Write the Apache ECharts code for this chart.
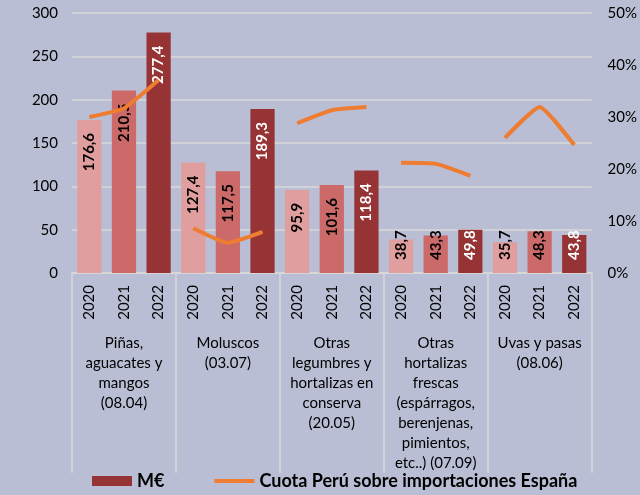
<!DOCTYPE html>
<html>
<head>
<meta charset="utf-8">
<script src="https://cdn.jsdelivr.net/npm/echarts@6/dist/echarts.min.js"></script>
<style>
  html, body { margin: 0; padding: 0; background: #b9bed4; }
  #main { width: 640px; height: 495px; }
</style>
</head>
<body>
<div id="main"></div>
<script>
// datos: importaciones (M€) y cuota de Perú por partida
var years = ['2020', '2021', '2022'];
var groups = [
  'Piñas,\naguacates y\nmangos\n(08.04)',
  'Moluscos\n(03.07)',
  'Otras\nlegumbres y\nhortalizas en\nconserva\n(20.05)',
  'Otras\nhortalizas\nfrescas\n(espárragos,\nberenjenas,\npimientos,\netc..) (07.09)',
  'Uvas y pasas\n(08.06)'
];
var importes = [
  [176.6, 210.5, 277.4],
  [127.4, 117.5, 189.3],
  [95.9, 101.6, 118.4],
  [38.7, 43.3, 49.8],
  [35.7, 48.3, 43.8]
];
var cuota = [
  [30.0, 31.7, 37.1],
  [8.6, 5.8, 7.9],
  [28.8, 31.3, 31.9],
  [21.2, 21.0, 18.7],
  [26.0, 31.9, 24.6]
];
var yLeftTicks = [0, 300, 50];
var yRightTicks = [0, 50, 10];

var barColors = ['#e09e9e', '#cc6969', '#963435'];
var labelColors = ['#000', '#000', '#fff'];
var lineName = 'Cuota Perú sobre importaciones España';
var fontName = 'Lato, "Open Sans", sans-serif';

var xCats = [];
var barData = [];
importes.forEach(function (g, gi) {
  g.forEach(function (v, yi) {
    xCats.push(years[yi] + '_' + gi);
    var small = v < 60;
    barData.push({
      value: v,
      itemStyle: { color: barColors[yi] },
      label: small
        ? { position: 'insideBottom', align: 'left', distance: 13, color: labelColors[yi] }
        : { position: 'insideTop', align: 'right', distance: 13, color: labelColors[yi] }
    });
  });
});

// una serie de línea por grupo para que no se unan entre partidas
var lineSeries = cuota.map(function (g, gi) {
  var d = xCats.map(function () { return '-'; });
  g.forEach(function (v, yi) { d[gi * 3 + yi] = v; });
  return {
    name: lineName,
    type: 'line',
    yAxisIndex: 1,
    data: d,
    smooth: 0.15,
    symbol: 'none',
    lineStyle: { color: '#ee7d31', width: 4 },
    itemStyle: { color: '#ee7d31' },
    z: 5
  };
});

var myChart = echarts.init(document.getElementById('main'));
var option = {
  backgroundColor: '#b9bed4',
  textStyle: { fontFamily: fontName },
  animation: false,
  grid: { left: 72, right: 48, top: 13, bottom: 222 },
  legend: {
    bottom: 0,
    left: 87,
    itemGap: 50,
    itemWidth: 40,
    itemHeight: 10,
    textStyle: { fontSize: 18, fontWeight: 'bold', color: '#000', fontFamily: fontName },
    data: [
      { name: 'M€', icon: 'rect', itemStyle: { color: barColors[2] } },
      { name: lineName, icon: 'path://M0,3 L40,3 L40,7 L0,7 Z', itemStyle: { color: '#ee7d31' } }
    ]
  },
  xAxis: [
    {
      type: 'category',
      data: xCats,
      position: 'bottom',
      axisLine: { show: true, lineStyle: { color: '#d9d9d9', width: 1.5 } },
      axisTick: { show: false },
      axisLabel: {
        interval: 0,
        rotate: 90,
        margin: 12,
        fontSize: 15,
        color: '#000',
        formatter: function (v) { return v.split('_')[0]; }
      }
    },
    {
      type: 'category',
      data: groups,
      position: 'bottom',
      axisLine: { show: false },
      axisTick: { show: true, length: 200, lineStyle: { color: '#d9d9d9', width: 1.5 } },
      axisLabel: {
        interval: 0,
        margin: 60,
        fontSize: 15,
        lineHeight: 20,
        color: '#000'
      }
    }
  ],
  yAxis: [
    {
      type: 'value',
      min: yLeftTicks[0],
      max: yLeftTicks[1],
      interval: yLeftTicks[2],
      axisLabel: { fontSize: 15, color: '#000', margin: 14 },
      splitLine: { lineStyle: { color: '#d9d9d9', width: 1.5 } }
    },
    {
      type: 'value',
      min: yRightTicks[0],
      max: yRightTicks[1],
      interval: yRightTicks[2],
      axisLabel: { fontSize: 15, color: '#000', margin: 16, formatter: '{value}%' },
      splitLine: { show: false }
    }
  ],
  series: [
    {
      name: 'M€',
      type: 'bar',
      data: barData,
      barCategoryGap: '30%',
      itemStyle: { color: barColors[2] },
      label: {
        show: true,
        rotate: 90,
        verticalAlign: 'middle',
        fontSize: 15,
        fontWeight: 'bold',
        fontFamily: fontName,
        formatter: function (p) { return p.value.toFixed(1).replace('.', ','); }
      }
    }
  ].concat(lineSeries)
};

myChart.setOption(option);
</script>
</body>
</html>
